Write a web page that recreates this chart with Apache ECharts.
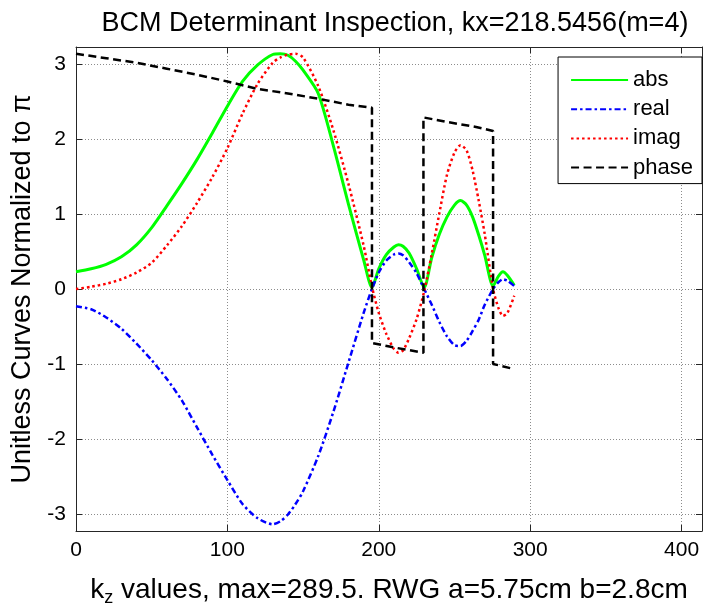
<!DOCTYPE html>
<html>
<head>
<meta charset="utf-8">
<script src="https://cdn.jsdelivr.net/npm/echarts@6/dist/echarts.min.js"></script>
<style>
  html, body { margin: 0; padding: 0; background: #ffffff; }
  #chart { width: 706px; height: 612px; }
</style>
</head>
<body>
<div id="chart"></div>
<script>
// kz sample points shared by the abs / real / imag curves
var kz = [0, 10, 20, 30, 40, 50, 60, 70, 80, 90, 100, 110, 120, 130, 135, 140, 145, 150, 160, 170, 180, 190,
          195.5, 200, 205, 210, 213, 216, 220, 225, 230, 235, 240, 245, 250, 254, 258, 262, 266, 270,
          275.5, 279, 282, 285, 289.5];

var absVals = [0.23, 0.27, 0.33, 0.43, 0.59, 0.82, 1.11, 1.41, 1.73, 2.08, 2.44, 2.77, 2.99, 3.13, 3.14, 3.12, 3.04, 2.92, 2.61, 1.91, 1.13, 0.39,
               0.02, 0.27, 0.46, 0.56, 0.59, 0.57, 0.48, 0.27, 0.02, 0.42, 0.73, 0.96, 1.12, 1.18, 1.12, 0.96, 0.72, 0.45,
               0.04, 0.17, 0.23, 0.18, 0.05];

var realVals = [-0.23, -0.27, -0.38, -0.53, -0.73, -0.95, -1.20, -1.49, -1.85, -2.21, -2.55, -2.87, -3.06, -3.14, -3.10, -3.01, -2.87, -2.70, -2.23, -1.64, -0.98, -0.32,
                0.0, 0.22, 0.38, 0.46, 0.475, 0.45, 0.36, 0.21, 0.0, -0.21, -0.44, -0.63, -0.75, -0.76, -0.69, -0.56, -0.41, -0.21,
                0.0, 0.09, 0.13, 0.11, 0.04];

var imagVals = [0.0, 0.03, 0.07, 0.13, 0.22, 0.35, 0.58, 0.84, 1.15, 1.49, 1.88, 2.34, 2.74, 3.02, 3.09, 3.13, 3.14, 3.09, 2.71, 2.12, 1.40, 0.58,
                0.03, -0.32, -0.60, -0.80, -0.85, -0.82, -0.66, -0.40, -0.03, 0.47, 1.01, 1.52, 1.82, 1.92, 1.85, 1.58, 1.18, 0.73,
                0.0, -0.25, -0.36, -0.32, -0.09];

// phase has its own samples: each wrap is a vertical jump at one kz
var phaseKz   = [0, 20, 40, 60, 80, 100, 120, 140, 160, 180, 195.5, 195.5, 210, 229.5, 229.5, 245, 265, 275.5, 275.5, 289.5];
var phaseVals = [3.14, 3.08, 3.02, 2.94, 2.86, 2.77, 2.67, 2.61, 2.54, 2.46, 2.42, -0.72, -0.78, -0.85, 2.29, 2.23, 2.16, 2.11, -1.00, -1.07];

var xTicks = [0, 100, 200, 300, 400];
var yTicks = [-3, -2, -1, 0, 1, 2, 3];

var titleText = 'BCM Determinant Inspection, kx=218.5456(m=4)';
var seriesNames = ['abs', 'real', 'imag', 'phase'];

function pairs(xs, ys) {
  return xs.map(function (x, i) { return [x, ys[i]]; });
}

var FONT = 'Liberation Sans, Arial, Helvetica, sans-serif';
var AXIS_COLOR = '#262626';
var GRID_STYLE = { color: '#8c8c8c', width: 1, type: [1, 2] };

var chart = echarts.init(document.getElementById('chart'), null, { renderer: 'canvas' });

function tickFmt(list) {
  return function (v) { return list.indexOf(Math.round(v * 1000) / 1000) >= 0 ? String(v) : ''; };
}

var option = {
  animation: false,
  backgroundColor: '#ffffff',
  textStyle: { fontFamily: FONT },
  title: {
    text: titleText,
    left: 390, top: 5, textAlign: 'center',
    textStyle: { fontFamily: FONT, fontSize: 27, fontWeight: 'normal', color: '#000' }
  },
  grid: { left: 76, right: 4, top: 47, bottom: 75, containLabel: false },
  legend: {
    data: seriesNames,
    orient: 'vertical',
    right: 4, top: 57,
    padding: [12, 9, 5, 12],
    itemWidth: 57, itemHeight: 20, itemGap: 7.2,
    backgroundColor: '#ffffff',
    borderColor: '#000000', borderWidth: 1,
    textStyle: { fontFamily: FONT, fontSize: 22, color: '#000', lineHeight: 20 },
    itemStyle: { opacity: 0 }
  },
  xAxis: [{
    type: 'value', min: 0, max: 413.5, interval: 100,
    axisLine: { show: true, onZero: false, lineStyle: { color: AXIS_COLOR, width: 1 } },
    axisTick: { show: true, inside: true, length: 6, lineStyle: { color: AXIS_COLOR } },
    axisLabel: { fontFamily: FONT, fontSize: 21, color: '#000', margin: 9, formatter: tickFmt(xTicks) },
    splitLine: { show: true, lineStyle: GRID_STYLE },
    name: '{t|k}{s|z}{t| values, max=289.5. RWG a=5.75cm b=2.8cm}',
    nameLocation: 'middle', nameGap: 42,
    nameTextStyle: {
      rich: {
        t: { fontFamily: FONT, fontSize: 28, color: '#000' },
        s: { fontFamily: FONT, fontSize: 18, color: '#000', padding: [16, 0, 0, 0] }
      }
    }
  }, {
    type: 'value', position: 'top', min: 0, max: 413.5, interval: 100,
    axisLine: { show: true, onZero: false, lineStyle: { color: AXIS_COLOR, width: 1 } },
    axisTick: { show: true, inside: true, length: 6, lineStyle: { color: AXIS_COLOR } },
    axisLabel: { show: false },
    splitLine: { show: false }
  }],
  yAxis: [{
    type: 'value', min: -3.23, max: 3.23, splitNumber: 6,
    axisLine: { show: true, onZero: false, lineStyle: { color: AXIS_COLOR, width: 1 } },
    axisTick: { show: true, inside: true, length: 6, lineStyle: { color: AXIS_COLOR } },
    axisLabel: { fontFamily: FONT, fontSize: 21, color: '#000', margin: 10, formatter: tickFmt(yTicks) },
    splitLine: { show: true, lineStyle: GRID_STYLE },
    name: 'Unitless Curves Normalized to \u03c0',
    nameLocation: 'middle', nameGap: 31, nameRotate: 90,
    nameTextStyle: { fontFamily: FONT, fontSize: 27, color: '#000' }
  }, {
    type: 'value', position: 'right', min: -3.23, max: 3.23, splitNumber: 6,
    axisLine: { show: true, onZero: false, lineStyle: { color: AXIS_COLOR, width: 1 } },
    axisTick: { show: true, inside: true, length: 6, lineStyle: { color: AXIS_COLOR } },
    axisLabel: { show: false },
    splitLine: { show: false }
  }],
  series: [{
    name: 'abs', type: 'line', data: pairs(kz, absVals),
    showSymbol: false, symbol: 'none', z: 3, smooth: 0.25,
    lineStyle: { color: '#00ff00', width: 3, type: 'solid' },
    itemStyle: { color: '#00ff00' }
  }, {
    name: 'real', type: 'line', data: pairs(kz, realVals),
    showSymbol: false, symbol: 'none', z: 4, smooth: 0.25,
    lineStyle: { color: '#0000ff', width: 2.5, type: [6, 3, 2.5, 3] },
    itemStyle: { color: '#0000ff' }
  }, {
    name: 'imag', type: 'line', data: pairs(kz, imagVals),
    showSymbol: false, symbol: 'none', z: 5, smooth: 0.25,
    lineStyle: { color: '#ff0000', width: 2.5, type: [2.5, 3] },
    itemStyle: { color: '#ff0000' }
  }, {
    name: 'phase', type: 'line', data: pairs(phaseKz, phaseVals),
    showSymbol: false, symbol: 'none', z: 6,
    lineStyle: { color: '#000000', width: 2.5, type: [8, 4.5] },
    itemStyle: { color: '#000000' }
  }]
};

chart.setOption(option);
</script>
</body>
</html>
